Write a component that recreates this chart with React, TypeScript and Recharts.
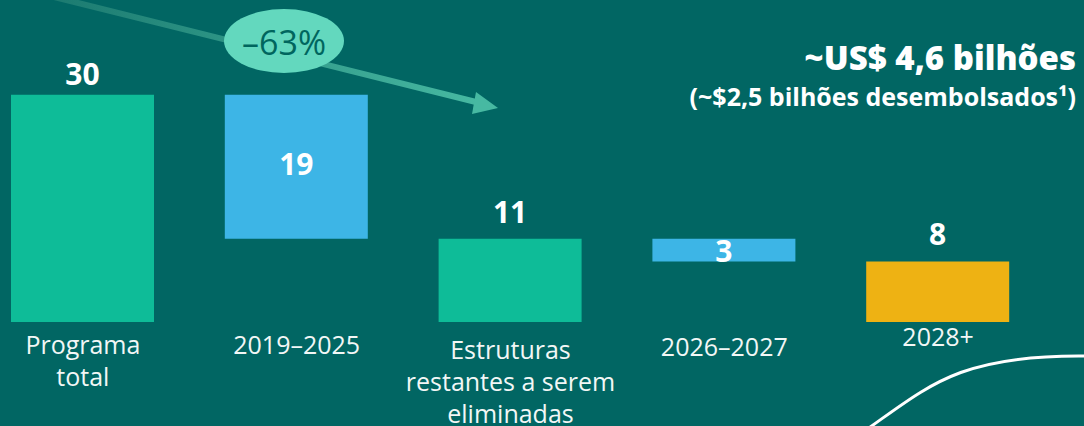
import React, { useEffect } from "react";
import { BarChart, Bar, XAxis, YAxis, Cell, LabelList } from "recharts";

const categories = ["Programa total", "2019–2025", "Estruturas restantes a serem eliminadas", "2026–2027", "2028+"];
const tickLines = [["Programa", "total"], ["2019–2025"], ["Estruturas", "restantes a serem", "eliminadas"], ["2026–2027"], ["2028+"]];
const baseValues = [0, 11, 0, 8, 0];
const barValues = [30, 19, 11, 3, 8];
const barKinds = ["total", "step", "total", "step", "final"];
const headline = "~US$ 4,6 bilhões";
const subline = "(~$2,5 bilhões desembolsados¹)";
const changeLabel = "–63%";

const BG = "#016663";
const COLORS: Record<string, string> = { total: "#0EBC98", step: "#3DB5E6", final: "#EEB213" };
const TICK_DY = [22, 22, 27, 24, 14];
const LABEL_DY = [-21, -3, -27, 0, -28];

const data = categories.map((name, i) => ({ name, base: baseValues[i], value: barValues[i], kind: barKinds[i] }));

const FONT = "'Open Sans', 'Noto Sans', sans-serif";

function Tick(props: any) {
  const { x, y, index } = props;
  const lines = tickLines[index] || [];
  return (
    <g>
      {lines.map((l: string, k: number) => (
        <text key={k} x={x} y={y + TICK_DY[index] + k * 32} textAnchor="middle" dominantBaseline="central"
          fill="#F2F7F6" fontFamily={FONT} fontSize={25} fontWeight={400}>{l}</text>
      ))}
    </g>
  );
}

function ValueLabel(props: any) {
  const { x, y, width, height, index } = props;
  const kind = barKinds[index];
  const cx = x + width / 2;
  const cy = (kind === "step" ? y + height / 2 : y) + LABEL_DY[index];
  return (
    <text x={cx} y={cy} textAnchor="middle" dominantBaseline="central" fill="#FFFFFF"
      fontFamily={FONT} fontSize={30} fontWeight={700}>{barValues[index]}</text>
  );
}

export default function App() {
  useEffect(() => {
    document.body.style.margin = "0";
    document.body.style.background = BG;
  }, []);
  return (
    <div style={{ position: "fixed", left: 0, top: 0, width: 1084, height: 426, overflow: "hidden", background: BG }}>
      <div style={{ position: "absolute", left: -24, top: 0 }}>
        <BarChart width={1069} height={426} data={data} margin={{ top: 19, right: 0, bottom: 74, left: 0 }} barSize={143}>
          <XAxis dataKey="name" height={30} axisLine={false} tickLine={false} interval={0} tick={<Tick />} tickSize={0} tickMargin={0} />
          <YAxis hide domain={[0, 40]} allowDataOverflow />
          <Bar dataKey="base" stackId="w" fill="transparent" isAnimationActive={false} />
          <Bar dataKey="value" stackId="w" isAnimationActive={false}>
            {data.map((d, i) => (
              <Cell key={i} fill={COLORS[d.kind]} />
            ))}
            <LabelList dataKey="value" content={<ValueLabel />} />
          </Bar>
        </BarChart>
      </div>
      <svg width={1084} height={426} style={{ position: "absolute", left: 0, top: 0, pointerEvents: "none" }}>
        <defs>
          <linearGradient id="arrowGrad" x1="0" y1="0" x2="1" y2="0">
            <stop offset="0" stopColor="#1B7A70" />
            <stop offset="1" stopColor="#47B9A2" />
          </linearGradient>
        </defs>
        <line x1={50} y1={-4} x2={480} y2={103} stroke="url(#arrowGrad)" strokeWidth={6} />
        <polygon points="498,108 476,92 472,114" fill="#47B9A2" />
        <ellipse cx={284} cy={41} rx={60} ry={32} fill="#63D8BE" />
        <text x={284} y={42} textAnchor="middle" dominantBaseline="central" fill="#00665E"
          fontFamily={FONT} fontSize={34} fontWeight={500}>{changeLabel}</text>
        <text x={1076} y={57} textAnchor="end" dominantBaseline="central" fill="#FFFFFF"
          fontFamily={FONT} fontSize={33} fontWeight={800}>{headline}</text>
        <text x={1076} y={96} textAnchor="end" dominantBaseline="central" fill="#FFFFFF"
          fontFamily={FONT} fontSize={25} fontWeight={700}>{subline}</text>
        <path d="M 866 430 C 930 385, 960 355, 1084 356" fill="none" stroke="#FFFFFF" strokeWidth={3} />
      </svg>
    </div>
  );
}
